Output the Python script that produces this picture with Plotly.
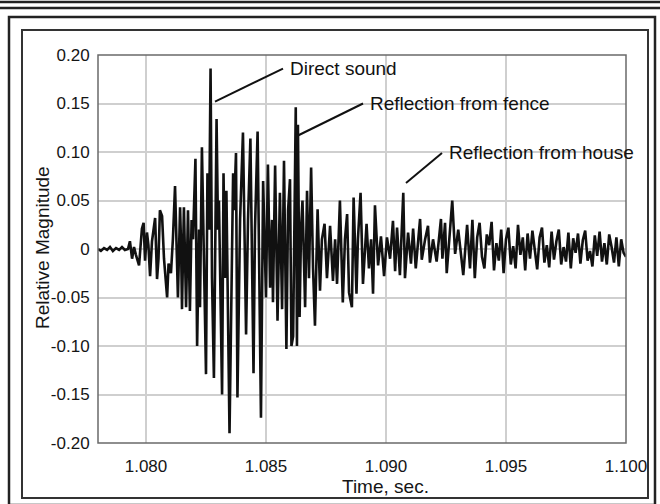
import plotly.graph_objects as go

# Time (s) and relative magnitude
time_s = [
    1.07800, 1.07812, 1.07825, 1.07838, 1.07850, 1.07862, 1.07875, 1.07888, 1.07900, 1.07912,
    1.07925, 1.07933, 1.07942, 1.07950, 1.07958, 1.07971, 1.07983, 1.07990, 1.07996, 1.08004,
    1.08010, 1.08017, 1.08025, 1.08038, 1.08046, 1.08052, 1.08058, 1.08067, 1.08075, 1.08088,
    1.08094, 1.08100, 1.08104, 1.08112, 1.08121, 1.08133, 1.08142, 1.08146, 1.08150, 1.08158,
    1.08163, 1.08167, 1.08175, 1.08183, 1.08190, 1.08196, 1.08206, 1.08213,
    1.08221, 1.08225, 1.08233, 1.08242, 1.08250, 1.08256, 1.08263, 1.08269, 1.08275, 1.08283,
    1.08294, 1.08300, 1.08304, 1.08317, 1.08323, 1.08329, 1.08335, 1.08348, 1.08363, 1.08367,
    1.08375, 1.08381, 1.08392, 1.08404, 1.08417, 1.08425, 1.08435, 1.08448, 1.08454, 1.08465,
    1.08479, 1.08488, 1.08494, 1.08500, 1.08508, 1.08517, 1.08525, 1.08529, 1.08538, 1.08548,
    1.08558, 1.08567, 1.08575, 1.08585, 1.08592, 1.08600, 1.08606, 1.08613, 1.08624, 1.08629,
    1.08633, 1.08640, 1.08646, 1.08652, 1.08663, 1.08671, 1.08679, 1.08688, 1.08696, 1.08704,
    1.08715, 1.08725, 1.08733, 1.08744, 1.08754, 1.08767, 1.08779, 1.08788, 1.08796, 1.08808,
    1.08820, 1.08829, 1.08838, 1.08846, 1.08858, 1.08865, 1.08877, 1.08883, 1.08894, 1.08904,
    1.08919, 1.08929, 1.08938, 1.08946, 1.08954, 1.08967, 1.08979, 1.08992, 1.09004, 1.09017,
    1.09029, 1.09038, 1.09046, 1.09058, 1.09072, 1.09079, 1.09092, 1.09104, 1.09113, 1.09124,
    1.09142, 1.09149, 1.09163, 1.09175, 1.09183, 1.09196, 1.09211, 1.09229, 1.09235, 1.09246,
    1.09253, 1.09267, 1.09276, 1.09288, 1.09301, 1.09322, 1.09338, 1.09350, 1.09360,
    1.0937, 1.0938, 1.0939, 1.0940, 1.0941, 1.0942, 1.0943, 1.0944, 1.0945, 1.0946,
    1.0947, 1.0948, 1.0949, 1.0950, 1.0951, 1.0952, 1.0953, 1.0954, 1.0955, 1.0956,
    1.0957, 1.0958, 1.0959, 1.0960, 1.0961, 1.0962, 1.0963, 1.0964, 1.0965, 1.0966,
    1.0967, 1.0968, 1.0969, 1.0970, 1.0971, 1.0972, 1.0973, 1.0974, 1.0975, 1.0976,
    1.0977, 1.0978, 1.0979, 1.0980, 1.0981, 1.0982, 1.0983, 1.0984, 1.0985, 1.0986,
    1.0987, 1.0988, 1.0989, 1.0990, 1.0991, 1.0992, 1.0993, 1.0994, 1.0995, 1.0996,
    1.0997, 1.0998, 1.0999, 1.1000,
]
magnitude = [
    0.000, -0.002, 0.001, -0.001, 0.002, -0.002, 0.001, -0.001, 0.002, -0.001,
    0.000, 0.008, -0.010, 0.002, -0.006, -0.017, 0.021, 0.027, -0.012, 0.017,
    0.004, -0.028, 0.008, 0.032, -0.031, -0.010, 0.040, 0.034, -0.010, -0.050,
    -0.015, -0.022, -0.025, 0.010, 0.065, -0.050, 0.043, 0.005, -0.062, 0.043,
    0.000, -0.060, 0.040, -0.064, 0.030, 0.010, 0.093, -0.100,
    0.020, -0.060, 0.105, -0.040, -0.129, 0.078, 0.020, 0.186, -0.030, -0.133,
    0.134, 0.020, 0.050, -0.150, 0.078, -0.030, 0.060, -0.190, 0.078, 0.040,
    0.099, -0.153, 0.030, 0.120, -0.088, 0.030, 0.114, -0.128, 0.020, 0.121,
    -0.174, 0.070, -0.010, -0.050, 0.087, -0.040, 0.030, -0.055, 0.086, -0.074,
    0.058, -0.062, 0.091, -0.103, 0.040, 0.072, -0.100, -0.090, 0.146, -0.100,
    0.128, -0.070, 0.020, 0.050, -0.060, 0.060, -0.030, 0.084, -0.020, -0.079,
    0.041, -0.043, 0.010, 0.026, -0.030, 0.024, -0.033, 0.010, -0.036, 0.050,
    -0.055, 0.010, 0.036, -0.045, -0.060, 0.053, -0.046, 0.010, 0.058, -0.036,
    0.026, -0.020, 0.010, -0.046, 0.045, -0.017, 0.013, -0.028, 0.012, -0.010,
    0.029, -0.023, 0.022, -0.027, 0.058, -0.030, 0.017, -0.015, 0.021, -0.020,
    0.031, -0.011, 0.010, 0.024, -0.014, 0.010, -0.013, 0.031, -0.010, 0.027,
    -0.025, 0.027, 0.050, -0.005, 0.020, -0.027, 0.025, -0.020, 0.030,
    -0.030, 0.012, 0.027, -0.008, -0.020, 0.015, 0.004, 0.028, -0.022, 0.006,
    -0.012, 0.020, -0.025, 0.010, 0.022, -0.016, 0.003, -0.020, 0.025, -0.006,
    0.012, -0.022, 0.016, -0.010, 0.019, -0.003, -0.021, 0.012, 0.022, -0.014,
    0.004, -0.019, 0.018, -0.011, 0.008, 0.020, -0.016, 0.002, -0.013, 0.017,
    -0.020, 0.011, -0.004, 0.016, -0.015, 0.009, 0.019, -0.012, -0.002, -0.018,
    0.014, -0.007, 0.018, -0.013, 0.006, -0.016, 0.015, 0.002, -0.014, 0.012,
    -0.018, 0.010, -0.004, -0.008,
]

x_ticks = [1.080, 1.085, 1.090, 1.095, 1.100]
x_tick_labels = ["1.080", "1.085", "1.090", "1.095", "1.100"]
y_ticks = [0.20, 0.15, 0.10, 0.05, 0, -0.05, -0.10, -0.15, -0.20]
y_tick_labels = ["0.20", "0.15", "0.10", "0.05", "0", "-0.05", "-0.10", "-0.15", "-0.20"]
x_title = "Time, sec."
y_title = "Relative Magnitude"

# annotations: (label, line start (t, v), line end (t, v))
notes = [
    ("Direct sound", (1.082875, 0.152), (1.085708, 0.186)),
    ("Reflection from fence", (1.086333, 0.117), (1.089042, 0.150)),
    ("Reflection from house", (1.090833, 0.068), (1.092333, 0.099)),
]

W, H = 660, 504
L, R, T, B = 98, 34, 55, 61
pw, ph = W - L - R, H - T - B


def px(x):
    return (x - L) / pw


def py(y):
    return (H - B - y) / ph


FONT = "Liberation Sans, Arial, sans-serif"

fig = go.Figure()
fig.add_trace(go.Scatter(x=time_s, y=magnitude, mode="lines",
                         line=dict(color="#111111", width=2.6),
                         hoverinfo="skip", showlegend=False))

shapes = []
for yy in (2, 8):
    shapes.append(dict(type="line", xref="paper", yref="paper",
                       x0=px(0), x1=px(W), y0=py(yy), y1=py(yy),
                       line=dict(color="#222222", width=2.5)))
shapes.append(dict(type="rect", xref="paper", yref="paper",
                   x0=px(9), x1=px(655), y0=py(17), y1=py(505),
                   line=dict(color="#222222", width=2.5)))
shapes.append(dict(type="rect", xref="paper", yref="paper",
                   x0=px(22), x1=px(648), y0=py(30), y1=py(498),
                   line=dict(color="#333333", width=2)))
shapes.append(dict(type="rect", xref="paper", yref="paper",
                   x0=0, x1=1, y0=0, y1=1,
                   line=dict(color="#6a6a6a", width=1.5)))

annotations = []
for label, (t0, v0), (t1, v1) in notes:
    shapes.append(dict(type="line", xref="x", yref="y",
                       x0=t0, y0=v0, x1=t1, y1=v1,
                       line=dict(color="#111111", width=2)))
    annotations.append(dict(x=t1, y=v1, xref="x", yref="y", text=label,
                            showarrow=False, xanchor="left", yanchor="middle",
                            xshift=5,
                            font=dict(family=FONT, size=19, color="#111111")))

# axis titles placed as in the reference
annotations.append(dict(x=px(385), y=py(486), xref="paper", yref="paper",
                        text=x_title, showarrow=False,
                        xanchor="center", yanchor="middle",
                        font=dict(family=FONT, size=19, color="#151515")))
annotations.append(dict(x=px(42), y=py(248), xref="paper", yref="paper",
                        text=y_title, showarrow=False, textangle=-90,
                        xanchor="center", yanchor="middle",
                        font=dict(family=FONT, size=19, color="#151515")))

fig.update_layout(
    width=W, height=H,
    margin=dict(l=L, r=R, t=T, b=B, pad=0),
    paper_bgcolor="white", plot_bgcolor="white",
    shapes=shapes, annotations=annotations,
    font=dict(family=FONT, size=17, color="#151515"),
    xaxis=dict(range=[1.078, 1.100], tickvals=x_ticks, ticktext=x_tick_labels,
               showgrid=True, gridcolor="#cfcfcf", gridwidth=1.5,
               zeroline=False, showline=False,
               ticks="outside", ticklen=8, tickcolor="rgba(0,0,0,0)"),
    yaxis=dict(range=[-0.20, 0.20], tickvals=y_ticks, ticktext=y_tick_labels,
               showgrid=True, gridcolor="#cfcfcf", gridwidth=1.5,
               zeroline=False, showline=False,
               ticks="outside", ticklen=4, tickcolor="rgba(0,0,0,0)"),
)

fig.write_html("out.html")
